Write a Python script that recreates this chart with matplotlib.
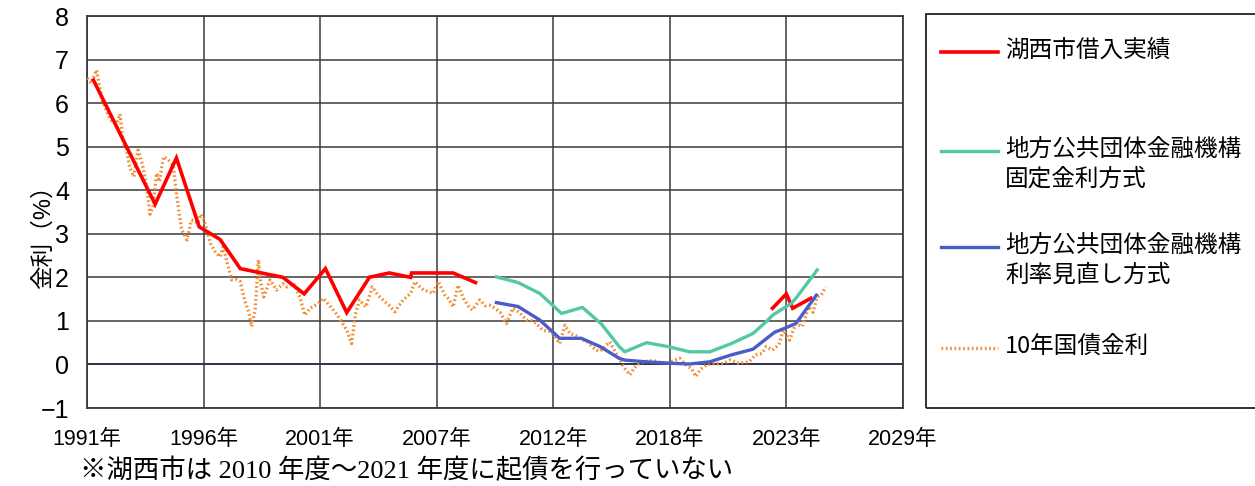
import matplotlib
matplotlib.use('Agg')
import matplotlib.pyplot as plt
from matplotlib import font_manager
from matplotlib.patches import Rectangle
from matplotlib.lines import Line2D

installed = {f.name for f in font_manager.fontManager.ttflist}
num_font = 'Liberation Sans Narrow' if 'Liberation Sans Narrow' in installed else 'Liberation Sans'
plt.rcParams['font.family'] = [num_font, 'Noto Sans CJK JP', 'DejaVu Sans']

# x values are decimal years
kosai_x1 = [1991.3, 1994.2, 1995.2, 1996.27, 1997.25, 1998.2, 2000.2, 2001.2, 2002.2, 2003.2,
            2004.2, 2004.25, 2005.2, 2006.2, 2006.25, 2008.2, 2009.25]
kosai_y1 = [6.53, 3.68, 4.74, 3.16, 2.87, 2.2, 2.0, 1.62, 2.2, 1.19,
            1.95, 2.0, 2.1, 2.0, 2.1, 2.1, 1.88]
kosai_x2 = [2023.2, 2023.85, 2024.15, 2025.0]
kosai_y2 = [1.29, 1.62, 1.29, 1.52]

fixed_x = [2010.23, 2011.25, 2012.27, 2013.29, 2014.27, 2015.16, 2016.0, 2016.26, 2017.28, 2018.29,
           2019.31, 2020.25, 2021.27, 2022.28, 2022.9, 2023.2, 2024.08, 2024.3, 2025.3]
fixed_y = [2.01, 1.88, 1.63, 1.17, 1.31, 0.93, 0.41, 0.29, 0.50, 0.41,
           0.29, 0.29, 0.48, 0.71, 0.98, 1.13, 1.40, 1.52, 2.17]

review_x = [2010.23, 2011.25, 2012.27, 2013.2, 2014.22, 2015.1, 2016.0, 2016.26, 2017.28, 2018.29,
            2019.3, 2020.25, 2021.27, 2022.28, 2023.3, 2023.77, 2024.3, 2025.26]
review_y = [1.42, 1.33, 1.02, 0.6, 0.6, 0.41, 0.14, 0.10, 0.06, 0.03,
            0.01, 0.06, 0.22, 0.35, 0.74, 0.83, 0.94, 1.59]

jgb_x = [1991.0, 1991.2, 1991.45, 1991.7, 1992.1, 1992.4, 1992.55, 1992.7, 1992.85, 1993.0,
         1993.2, 1993.4, 1993.6, 1993.8, 1993.96, 1994.1, 1994.27, 1994.4, 1994.6, 1994.8,
         1995.05, 1995.2, 1995.35, 1995.45, 1995.6, 1995.7, 1995.9, 1996.05, 1996.2, 1996.35,
         1996.5, 1996.8, 1997.0, 1997.25, 1997.4, 1997.6, 1997.8, 1998.0, 1998.2, 1998.4,
         1998.6, 1998.73, 1998.9, 1999.05, 1999.15, 1999.3, 1999.6, 1999.9, 2000.2, 2000.4,
         2000.7, 2001.0, 2001.23, 2001.47, 2001.6, 2001.85, 2002.1, 2002.4, 2002.7, 2003.0,
         2003.2, 2003.43, 2003.6, 2003.8, 2004.1, 2004.4, 2004.65, 2004.9, 2005.2, 2005.46,
         2005.65, 2005.85, 2006.2, 2006.4, 2006.6, 2006.8, 2007.0, 2007.26, 2007.5, 2007.8,
         2008.0, 2008.2, 2008.43, 2008.7, 2008.9, 2009.1, 2009.45, 2009.7, 2009.9, 2010.07,
         2010.4, 2010.7, 2011.0, 2011.3, 2011.64, 2011.9, 2012.1, 2012.4, 2012.8, 2013.2,
         2013.45, 2013.7, 2013.9, 2014.15, 2014.5, 2014.9, 2015.1, 2015.3, 2015.55, 2015.8,
         2016.0, 2016.2, 2016.5, 2016.7, 2016.96, 2017.2, 2017.6, 2017.9, 2018.3, 2018.84,
         2019.1, 2019.4, 2019.6, 2019.8, 2020.1, 2020.5, 2020.9, 2021.2, 2021.6, 2022.1,
         2022.4, 2022.7, 2022.9, 2023.2, 2023.5, 2023.7, 2024.0, 2024.3, 2024.6, 2024.9,
         2025.1, 2025.3, 2025.5, 2025.7]
jgb_y = [6.57, 6.45, 6.76, 6.07, 5.61, 5.53, 5.75, 5.08, 4.95, 4.54,
         4.31, 4.92, 4.6, 4.1, 3.45, 3.62, 4.39, 4.2, 4.77, 4.7,
         4.58, 3.93, 3.4, 3.09, 2.95, 2.86, 3.31, 3.3, 3.24, 3.45,
         3.31, 2.78, 2.6, 2.47, 2.70, 2.3, 1.94, 1.95, 1.90, 1.48,
         1.2, 0.87, 1.25, 2.40, 1.9, 1.55, 1.94, 1.71, 1.85, 1.78,
         1.86, 1.55, 1.13, 1.29, 1.32, 1.4, 1.52, 1.35, 1.17, 0.95,
         0.79, 0.48, 1.13, 1.48, 1.32, 1.78, 1.6, 1.48, 1.35, 1.21,
         1.35, 1.48, 1.63, 1.90, 1.8, 1.71, 1.68, 1.63, 1.90, 1.6,
         1.5, 1.32, 1.82, 1.5, 1.35, 1.25, 1.48, 1.35, 1.36, 1.32,
         1.2, 0.94, 1.29, 1.2, 1.02, 1.0, 0.95, 0.79, 0.75, 0.48,
         0.90, 0.7, 0.68, 0.60, 0.52, 0.33, 0.3, 0.4, 0.52, 0.3,
         0.14, -0.05, -0.24, -0.08, 0.03, 0.07, 0.09, 0.05, 0.04, 0.14,
         0.0, -0.1, -0.28, -0.12, -0.01, 0.02, 0.02, 0.10, 0.03, 0.06,
         0.22, 0.25, 0.41, 0.33, 0.45, 0.79, 0.56, 0.94, 0.87, 1.32,
         1.2, 1.55, 1.6, 1.78]

# Excel date axis: 2000-day major unit starting 1991-01-01
tick_step = 2000 / 365.25
tick_labels = ['1991年', '1996年', '2001年', '2007年', '2012年', '2018年', '2023年', '2029年']
legend_labels = ['湖西市借入実績', '地方公共団体金融機構\n固定金利方式',
                 '地方公共団体金融機構\n利率見直し方式', '10年国債金利']

c_red = '#FF0000'
c_teal = '#52C9A3'
c_blue = '#4A5CC8'
c_orange = '#F28A2E'
c_grid = '#3a3a3a'

fig = plt.figure(figsize=(12.55, 4.86), dpi=100)
ax = fig.add_axes([87 / 1255, 1 - 408 / 486, 816 / 1255, 392 / 486])

ax.plot(jgb_x, jgb_y, color=c_orange, lw=2.4, ls=(0, (0.5, 0.8)), zorder=3)
ax.plot(kosai_x1, kosai_y1, color=c_red, lw=2.6, zorder=4, solid_joinstyle='miter')
ax.plot(kosai_x2, kosai_y2, color=c_red, lw=2.6, zorder=4, solid_joinstyle='miter')
ax.plot(fixed_x, fixed_y, color=c_teal, lw=2.4, zorder=4)
ax.plot(review_x, review_y, color=c_blue, lw=2.4, zorder=4)

ticks = [1991 + i * tick_step for i in range(len(tick_labels))]
ax.set_xlim(ticks[0], ticks[-1])
ax.set_ylim(-1, 8)
ax.set_xticks(ticks)
ax.set_xticklabels(tick_labels, fontsize=15.5)
ax.set_yticks(range(-1, 9))
ax.set_yticklabels([str(v).replace('-', '\u2212') for v in range(-1, 9)], fontsize=18)
ax.tick_params(length=0, pad=13)
ax.tick_params(axis='x', pad=15)
ax.grid(True, color=c_grid, lw=1.1)
ax.axhline(0, color='#2f3050', lw=1.3, zorder=2)
for s in ax.spines.values():
    s.set_color(c_grid)
    s.set_linewidth(1.3)
ax.set_ylabel('金利（%）', fontsize=17)
ax.yaxis.set_label_coords(-32 / 816, 0.45)

# legend box
fig.patches.append(Rectangle((926 / 1255, 1 - 408 / 486), 340 / 1255, 394 / 486,
                             transform=fig.transFigure, fill=False, ec='#222222', lw=1.3))
leg_styles = [dict(color=c_red, lw=2.6), dict(color=c_teal, lw=2.4),
              dict(color=c_blue, lw=2.4), dict(color=c_orange, lw=2.4, ls=(0, (0.5, 0.8)))]
leg_y = [52, 151, 247, 348]
for lab, st, yy in zip(legend_labels, leg_styles, leg_y):
    fy = 1 - yy / 486
    fig.add_artist(Line2D([941 / 1255, 998 / 1255], [fy, fy], transform=fig.transFigure, **st))
    fig.text(1005 / 1255, 1 - (yy - 13) / 486, lab, fontsize=17, va='top', ha='left',
             linespacing=1.35, family=['Noto Sans CJK JP'])

fig.text(80 / 1255, 1 - 470 / 486, '※湖西市は 2010 年度～2021 年度に起債を行っていない',
         fontsize=19, va='center', ha='left', family=['Liberation Serif', 'Noto Sans CJK JP'])

fig.savefig('out.png', dpi=100)
